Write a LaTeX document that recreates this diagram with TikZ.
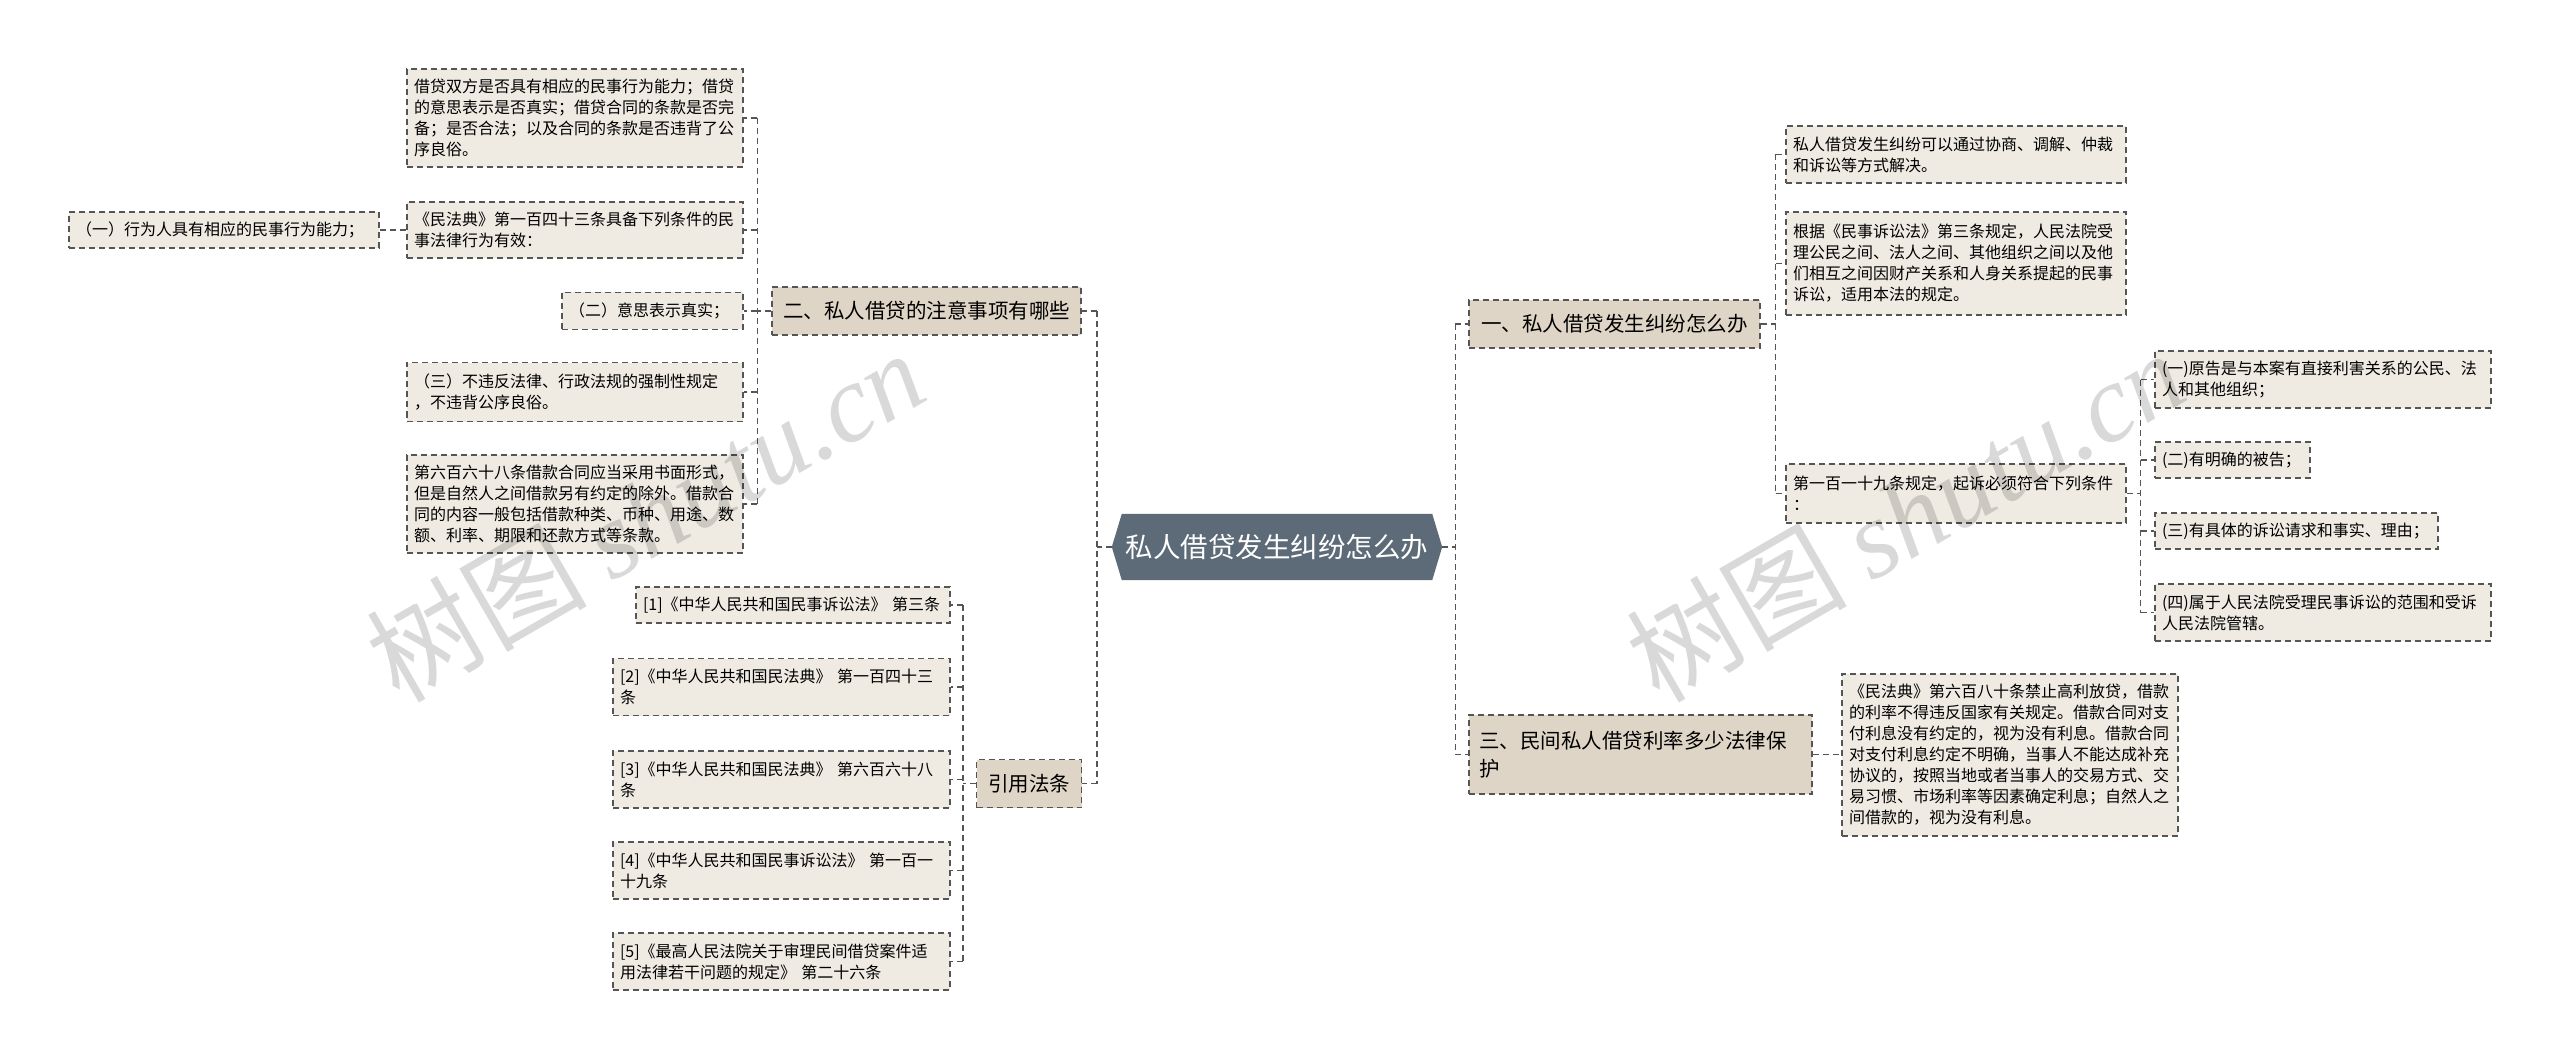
\documentclass[tikz,border=0pt]{standalone}
\usepackage{fontspec}
\setmainfont{Noto Sans CJK SC}
\newfontfamily\wmlatin{Liberation Serif}
\usetikzlibrary{calc,backgrounds}
\definecolor{leafbg}{HTML}{EFEBE3}
\definecolor{topicbg}{HTML}{DFD5C7}
\definecolor{rootbg}{HTML}{5C6B77}
\definecolor{linecol}{HTML}{555555}
\tikzset{
  boxline/.style={draw=linecol, line width=1.4pt, dash pattern=on 6pt off 4pt},
  leaf/.style={boxline, fill=leafbg, font=\fontsize{16}{21}\selectfont, align=left, inner xsep=7pt, inner ysep=9pt, text width=#1},
  topic/.style={boxline, fill=topicbg, font=\fontsize{20.5}{28}\selectfont, inner xsep=10pt, inner ysep=8pt},
  rootnode/.style={text=white, font=\fontsize{27.5}{33}\selectfont, inner sep=0pt},
  conn/.style={draw=linecol, line width=1.4pt, dash pattern=on 6pt off 4pt},
  wm/.style={text=black, opacity=0.15, font=\fontsize{110}{120}\selectfont, inner sep=0pt}
}
\begin{document}
\begin{tikzpicture}[x=1pt,y=-1pt]
\begin{scope}[on background layer]
\fill[white] (0,0) rectangle (2560,1059);
\end{scope}
\useasboundingbox (0,0) rectangle (2560,1059);

% root
\node[rootnode, minimum width=330pt, minimum height=66pt] (root) at (1277,547) {私人借贷发生纠纷怎么办};
\begin{scope}[on background layer]
\fill[rootbg] (root.west) -- ($(root.north west)+(10,0)$) -- ($(root.north east)+(-10,0)$) -- (root.east) -- ($(root.south east)+(-10,0)$) -- ($(root.south west)+(10,0)$) -- cycle;
\end{scope}

% level 1 left
\node[topic, minimum width=309pt, minimum height=48pt] (n2) at (926.5,311) {二、私人借贷的注意事项有哪些};
\node[topic, minimum width=105pt, minimum height=48pt] (nq) at (1029,783.5) {引用法条};
% level 1 right
\node[topic, minimum width=291pt, minimum height=48pt] (n1) at (1614.5,324) {一、私人借贷发生纠纷怎么办};
\node[topic, minimum width=343pt, minimum height=79pt, text width=323pt, align=left] (n3) at (1640.5,754.5) {三、民间私人借贷利率多少法律保\\护};

% children of n2
\node[leaf=322pt, minimum height=98pt] (a1) at (575,118) {借贷双方是否具有相应的民事行为能力；借贷\\的意思表示是否真实；借贷合同的条款是否完\\备；是否合法；以及合同的条款是否违背了公\\序良俗。};
\node[leaf=322pt, minimum height=56pt] (a2) at (575,230) {《民法典》第一百四十三条具备下列条件的民\\事法律行为有效：};
\node[leaf=296pt, minimum height=36pt] (a2c) at (224,230) {（一）行为人具有相应的民事行为能力；};
\node[leaf=167pt, minimum height=37pt] (a3) at (652.5,311) {（二）意思表示真实；};
\node[leaf=322pt, minimum height=59pt] (a4) at (575,392) {（三）不违反法律、行政法规的强制性规定\\，不违背公序良俗。};
\node[leaf=322pt, minimum height=98pt] (a5) at (575,504) {第六百六十八条借款合同应当采用书面形式，\\但是自然人之间借款另有约定的除外。借款合\\同的内容一般包括借款种类、币种、用途、数\\额、利率、期限和还款方式等条款。};

% children of nq
\node[leaf=300pt, minimum height=36pt] (q1) at (793,605) {[1]《中华人民共和国民事诉讼法》 第三条};
\node[leaf=323pt, minimum height=57pt] (q2) at (781.5,687) {[2]《中华人民共和国民法典》 第一百四十三\\条};
\node[leaf=323pt, minimum height=57pt] (q3) at (781.5,779.5) {[3]《中华人民共和国民法典》 第六百六十八\\条};
\node[leaf=323pt, minimum height=57pt] (q4) at (781.5,870.5) {[4]《中华人民共和国民事诉讼法》 第一百一\\十九条};
\node[leaf=323pt, minimum height=57pt] (q5) at (781.5,961.5) {[5]《最高人民法院关于审理民间借贷案件适\\用法律若干问题的规定》 第二十六条};

% children of n1
\node[leaf=326pt, minimum height=57pt] (b1) at (1956,154.5) {私人借贷发生纠纷可以通过协商、调解、仲裁\\和诉讼等方式解决。};
\node[leaf=326pt, minimum height=103pt] (b2) at (1956,263.5) {根据《民事诉讼法》第三条规定，人民法院受\\理公民之间、法人之间、其他组织之间以及他\\们相互之间因财产关系和人身关系提起的民事\\诉讼，适用本法的规定。};
\node[leaf=326pt, minimum height=59pt] (b3) at (1956,493.5) {第一百一十九条规定，起诉必须符合下列条件\\：};

% children of b3
\node[leaf=322pt, minimum height=57pt] (d1) at (2323,379.5) {(一)原告是与本案有直接利害关系的公民、法\\人和其他组织；};
\node[leaf=141pt, minimum height=36pt] (d2) at (2232.5,460) {(二)有明确的被告；};
\node[leaf=269pt, minimum height=36pt] (d3) at (2296.5,531) {(三)有具体的诉讼请求和事实、理由；};
\node[leaf=322pt, minimum height=57pt] (d4) at (2323,612.5) {(四)属于人民法院受理民事诉讼的范围和受诉\\人民法院管辖。};

% child of n3
\node[leaf=322pt, minimum height=162pt] (e1) at (2010,755) {《民法典》第六百八十条禁止高利放贷，借款\\的利率不得违反国家有关规定。借款合同对支\\付利息没有约定的，视为没有利息。借款合同\\对支付利息约定不明确，当事人不能达成补充\\协议的，按照当地或者当事人的交易方式、交\\易习惯、市场利率等因素确定利息；自然人之\\间借款的，视为没有利息。};

% connectors: root left
\coordinate (tl) at ($(root.west)+(-15,0)$);
\draw[conn] (root.west) -- (tl);
\draw[conn] (tl |- n2.east) -- (tl |- nq.east);
\draw[conn] (tl |- n2.east) -- (n2.east);
\draw[conn] (tl |- nq.east) -- (nq.east);
% root right
\coordinate (tr) at ($(root.east)+(13,0)$);
\draw[conn] (root.east) -- (tr);
\draw[conn] (tr |- n1.west) -- (tr |- n3.west);
\draw[conn] (tr |- n1.west) -- (n1.west);
\draw[conn] (tr |- n3.west) -- (n3.west);

% n2 children
\coordinate (t2) at ($(n2.west)+(-14,0)$);
\draw[conn] (n2.west) -- (t2);
\draw[conn] (t2 |- a1.east) -- (t2 |- a5.east);
\foreach \c in {a1,a2,a3,a4,a5} \draw[conn] (t2 |- \c.east) -- (\c.east);
\draw[conn] (a2c.east) -- (a2.west);

% nq children
\coordinate (tq) at ($(nq.west)+(-13,0)$);
\draw[conn] (nq.west) -- (tq);
\draw[conn] (tq |- q1.east) -- (tq |- q5.east);
\foreach \c in {q1,q2,q3,q4,q5} \draw[conn] (tq |- \c.east) -- (\c.east);

% n1 children
\coordinate (t1) at ($(n1.east)+(15,0)$);
\draw[conn] (n1.east) -- (t1);
\draw[conn] (t1 |- b1.west) -- (t1 |- b3.west);
\foreach \c in {b1,b2,b3} \draw[conn] (t1 |- \c.west) -- (\c.west);

% b3 children
\coordinate (tb) at ($(b3.east)+(14,0)$);
\draw[conn] (b3.east) -- (tb);
\draw[conn] (tb |- d1.west) -- (tb |- d4.west);
\foreach \c in {d1,d2,d3,d4} \draw[conn] (tb |- \c.west) -- (\c.west);

% n3 child
\draw[conn] (n3.east) -- (n3.east -| e1.west);

% watermarks
\node[wm, rotate=30] (w1) at (645,515) {树图 {\wmlatin\itshape shutu.cn}};
\node[wm, rotate=30] (w2) at (1905,515) {树图 {\wmlatin\itshape shutu.cn}};
\end{tikzpicture}
\end{document}
